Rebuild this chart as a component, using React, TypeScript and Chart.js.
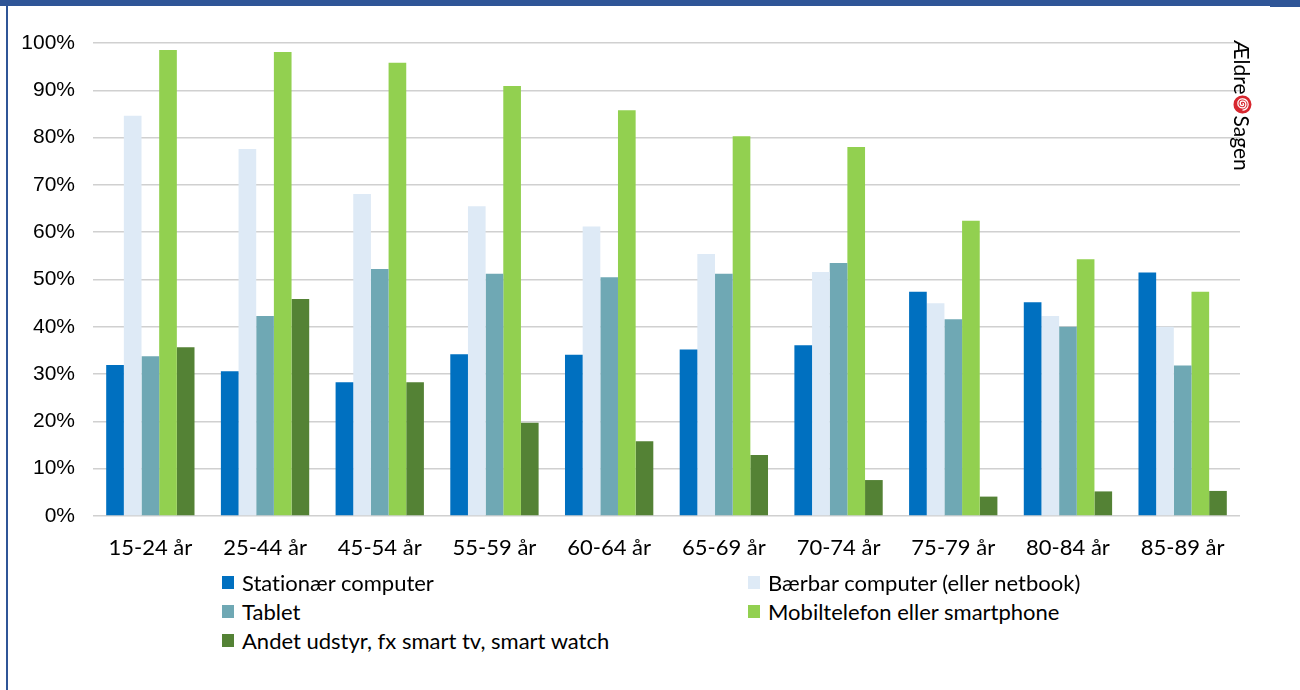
import React, { useEffect, useRef } from "react";
import { Chart, registerables } from "chart.js";

Chart.register(...registerables);

const categories = ["15-24 år", "25-44 år", "45-54 år", "55-59 år", "60-64 år", "65-69 år", "70-74 år", "75-79 år", "80-84 år", "85-89 år"];
const stationaer = [31.9, 30.6, 28.3, 34.2, 34.1, 35.2, 36.1, 47.4, 45.2, 51.5];
const baerbar = [84.6, 77.6, 68.1, 65.5, 61.2, 55.4, 51.6, 45.0, 42.3, 40.0];
const tablet = [33.8, 42.3, 52.2, 51.2, 50.5, 51.2, 53.5, 41.6, 40.0, 31.8];
const mobil = [98.5, 98.1, 95.8, 90.9, 85.8, 80.3, 78.0, 62.4, 54.3, 47.4];
const andet = [35.7, 45.9, 28.3, 19.7, 15.8, 12.9, 7.6, 4.1, 5.2, 5.3];
const seriesNames = [
  "Stationær computer",
  "Bærbar computer (eller netbook)",
  "Tablet",
  "Mobiltelefon eller smartphone",
  "Andet udstyr, fx smart tv, smart watch",
];
const seriesColors = ["#0070C0", "#DEEAF6", "#6FA8B4", "#92D050", "#548235"];
const yTicks = [0, 10, 20, 30, 40, 50, 60, 70, 80, 90, 100];

const LABEL_FONT = "Lato, 'Open Sans', sans-serif";

function Spiral() {
  return (
    <svg width="19" height="19" viewBox="-10 -10 20 20" style={{ display: "inline-block", verticalAlign: "middle" }}>
      <circle cx="0" cy="0" r="9.5" fill="#D7262E" />
      <path
        d="M0,0 a1.2,1.2 0 0 1 2.4,0 a2.4,2.4 0 0 1 -4.8,0 a3.6,3.6 0 0 1 7.2,0 a4.8,4.8 0 0 1 -9.6,0 a6,6 0 0 1 12,0"
        fill="none"
        stroke="#ffffff"
        strokeWidth="1.4"
        transform="translate(-1.2,0)"
      />
    </svg>
  );
}

export default function App() {
  const ref = useRef<HTMLCanvasElement | null>(null);

  useEffect(() => {
    document.body.style.margin = "0";
    const values = [stationaer, baerbar, tablet, mobil, andet];
    const chart = new Chart(ref.current as HTMLCanvasElement, {
      type: "bar",
      data: {
        labels: categories,
        datasets: values.map((v, i) => ({
          label: seriesNames[i],
          data: v,
          backgroundColor: seriesColors[i],
          borderWidth: 0,
          categoryPercentage: 0.77,
          barPercentage: 1.0,
        })),
      },
      options: {
        animation: false,
        responsive: false,
        layout: { padding: { top: 43, right: 60, left: 0, bottom: 0 } },
        plugins: { legend: { display: false }, tooltip: { enabled: false } },
        scales: {
          x: {
            grid: { display: false, drawTicks: false },
            border: { display: false },
            ticks: { color: "#000", font: { family: LABEL_FONT, size: 22 }, padding: 19, maxRotation: 0 },
            afterFit: (s: any) => {
              s.height = 54;
            },
          },
          y: {
            min: 0,
            max: 100,
            afterBuildTicks: (s: any) => {
              s.ticks = yTicks.map((v) => ({ value: v }));
            },
            grid: { color: "#d0d0d0", lineWidth: 1.5, drawTicks: false },
            border: { display: false },
            ticks: {
              color: "#000",
              font: { family: "'Liberation Sans', Arial, sans-serif", size: 21 },
              padding: 18,
              callback: (v: any) => v + "%",
            },
            afterFit: (s: any) => {
              s.width = 93;
            },
          },
        },
      },
    });
    return () => chart.destroy();
  }, []);

  const legendRows = [
    [0, 1],
    [2, 3],
    [4],
  ];

  return (
    <div style={{ position: "relative", width: 1300, height: 690, background: "#fff", overflow: "hidden" }}>
      <canvas ref={ref} width={1300} height={570} style={{ position: "absolute", left: 0, top: 0 }} />
      <div style={{ position: "absolute", left: 0, top: 0, width: 1300, height: 6, background: "#2F5597" }} />
      <div style={{ position: "absolute", left: 1270, top: 0, width: 30, height: 7, background: "#2F5597" }} />
      <div style={{ position: "absolute", left: 6, top: 0, width: 2, height: 690, background: "#2F5597" }} />
      {legendRows.map((row, r) =>
        row.map((idx, c) => (
          <div
            key={idx}
            style={{
              position: "absolute",
              left: c === 0 ? 222 : 748,
              top: 582 + r * 29 - 13,
              height: 26,
              display: "flex",
              alignItems: "center",
              fontFamily: LABEL_FONT,
              fontSize: 22,
              fontVariantLigatures: "none",
              color: "#000",
              whiteSpace: "nowrap",
            }}
          >
            <span style={{ display: "inline-block", width: 12, height: 13, background: seriesColors[idx], marginRight: 8 }} />
            <span>{seriesNames[idx]}</span>
          </div>
        ))
      )}
      <div
        style={{
          position: "absolute",
          left: 1253,
          top: 40,
          transform: "rotate(90deg)",
          transformOrigin: "top left",
          fontFamily: LABEL_FONT,
          fontSize: 21,
          lineHeight: "21px",
          color: "#000",
          whiteSpace: "nowrap",
          display: "flex",
          alignItems: "center",
        }}
      >
        <span>Ældre</span>
        <span style={{ display: "inline-flex", margin: "0 1px" }}>
          <Spiral />
        </span>
        <span>Sagen</span>
      </div>
    </div>
  );
}
